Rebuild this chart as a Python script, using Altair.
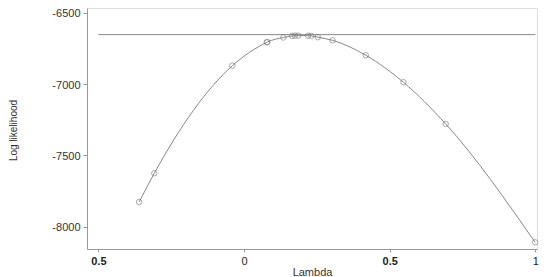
import altair as alt
import pandas as pd

lam = [-0.360, -0.308, -0.040, 0.078, 0.080, 0.135, 0.165, 0.175, 0.186, 0.220, 0.231, 0.253, 0.304, 0.418, 0.547, 0.692, 0.999]
loglik = [-7827, -7625, -6870, -6706, -6704, -6672, -6661, -6659, -6659, -6659, -6661, -6670, -6692, -6797, -6986, -7279, -8110]

ref_x = [-0.5]
ref_x2 = [1.0]
ref_y = [-6652]

x_ticks = [-0.5, 0, 0.5, 1]
y_ticks = [-6500, -7000, -7500, -8000]

df = pd.DataFrame({"lam": lam, "ll": loglik})
ref = pd.DataFrame({"x": ref_x, "x2": ref_x2, "y": ref_y})

xs = alt.Scale(domain=[-0.539, 1.0055], nice=False, zero=False)
ys = alt.Scale(domain=[-8157, -6465], nice=False, zero=False)

xaxis = alt.Axis(values=x_ticks, title="Lambda", grid=False,
                 labelExpr="datum.value == -0.5 ? '0.5' : datum.value + ''",
                 domainColor="#999", tickColor="#999", tickSize=3,
                 labelFont="Liberation Sans", labelFontSize=11, labelColor="#222",
                 labelFontWeight={"condition": {"test": "abs(datum.value) == 0.5", "value": "bold"}, "value": "normal"},
                 labelPadding=3,
                 titleFont="Liberation Sans", titleFontSize=11, titleFontWeight="normal",
                 titleColor="#333", titlePadding=0)
yaxis = alt.Axis(values=y_ticks, title="Log likelihood", grid=False,
                 labelExpr="datum.value + ''",
                 domainColor="#999", tickColor="#999", tickSize=4,
                 labelFont="Liberation Sans", labelFontSize=11, labelColor="#333",
                 labelPadding=3, labelOffset=1,
                 titleFont="Liberation Sans", titleFontSize=10, titleFontWeight="normal",
                 titleColor="#333", titleX=-74, titleY=122, titleBaseline="middle")

line = alt.Chart(df).mark_line(color="#888", strokeWidth=1, interpolate="monotone").encode(
    x=alt.X("lam:Q", scale=xs, axis=xaxis),
    y=alt.Y("ll:Q", scale=ys, axis=yaxis),
)
pts = alt.Chart(df).mark_point(shape="circle", size=30, color="#777", strokeWidth=0.9, filled=False).encode(
    x=alt.X("lam:Q", scale=xs),
    y=alt.Y("ll:Q", scale=ys),
)
rule = alt.Chart(ref).mark_rule(color="#888", strokeWidth=1).encode(
    x=alt.X("x:Q", scale=xs), x2="x2:Q", y=alt.Y("y:Q", scale=ys)
)

chart = alt.layer(rule, line, pts).properties(
    width=450, height=241,
    autosize=alt.AutoSizeParams(type="none"),
    padding={"left": 79, "top": 0, "right": 5, "bottom": 28},
).configure_view(stroke=None).configure(background="white")

chart.save("out.html", embed_options={"renderer": "svg", "actions": False})
